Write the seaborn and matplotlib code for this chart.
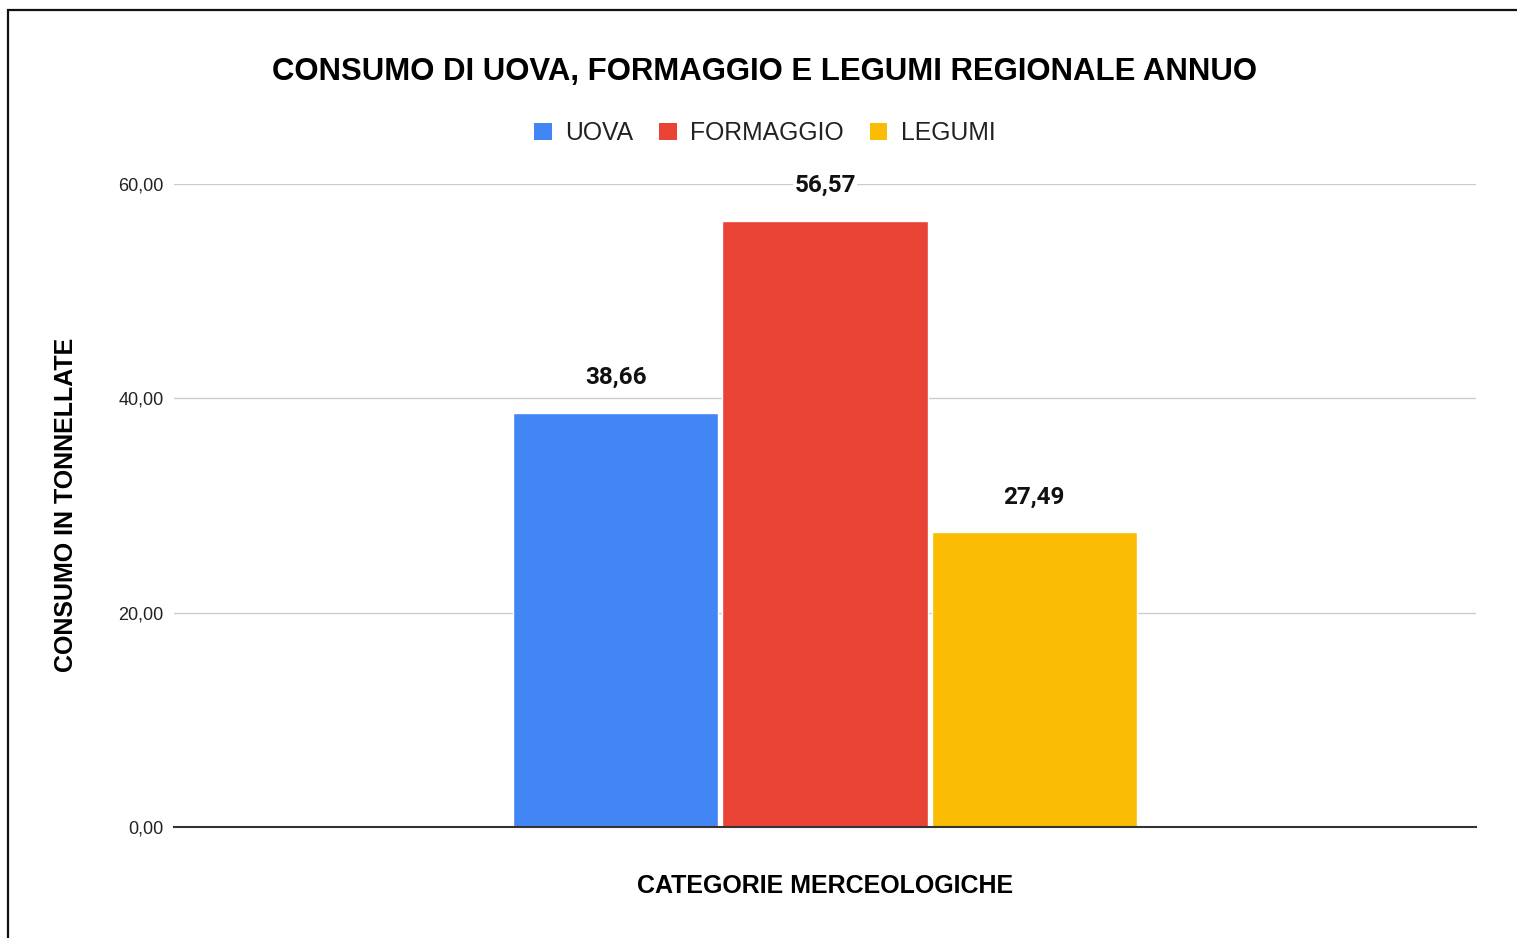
import matplotlib
matplotlib.use("Agg")
import matplotlib.pyplot as plt
from matplotlib.patches import Rectangle
import seaborn as sns
import pandas as pd

# data
series = ["UOVA", "FORMAGGIO", "LEGUMI"]
values = [38.66, 56.57, 27.49]
category = [""] * len(series)
colors = ["#4285F4", "#E94335", "#FBBC04"]
yticks = [0, 20, 40, 60]
ytick_labels = ["0,00", "20,00", "40,00", "60,00"]

df = pd.DataFrame({"cat": category, "serie": series, "valore": values})

sns.set_style("white")
plt.rcParams["font.family"] = ["Liberation Sans", "DejaVu Sans"]

fig = plt.figure(figsize=(15.17, 9.38), dpi=100)
ax = fig.add_axes([174 / 1517, 1 - 827 / 938, (1476 - 174) / 1517, (827 - 184) / 938])

sns.barplot(data=df, x="cat", y="valore", hue="serie", hue_order=series,
            palette=colors, width=0.482, gap=0.02, saturation=1,
            legend=False, ax=ax)

ax.set_ylim(0, 60)
ax.set_xlim(-0.5, 0.5)
ax.set_yticks(yticks)
ax.set_yticklabels(ytick_labels, fontsize=13, color="#222222")
ax.tick_params(axis="y", length=0, pad=7.5)
ax.set_xticks([])
ax.set_xlabel("")
ax.set_ylabel("")
ax.grid(axis="y", color="#cccccc", linewidth=1)
ax.set_axisbelow(True)
for side in ["left", "right", "top"]:
    ax.spines[side].set_visible(False)
ax.spines["bottom"].set_color("#333333")
ax.spines["bottom"].set_linewidth(1.5)
ax.spines["bottom"].set_zorder(5)

for cont, v in zip(ax.containers, values):
    lbls = ax.bar_label(cont, labels=[f"{v:.2f}".replace(".", ",")], padding=17,
                        fontsize=17.5, fontweight="bold", family="Roboto",
                        color="#111111")
    for t in lbls:
        t.set_bbox(dict(facecolor="white", edgecolor="none", pad=1))

# legend with square markers
handles = [Rectangle((0, 0), 1, 1, facecolor=c, edgecolor="none") for c in colors]
fig.legend(handles, series, loc="center", bbox_to_anchor=(765 / 1517, 1 - 133 / 938),
           ncol=3, frameon=False, fontsize=17.8, handlelength=0.7, handleheight=0.7,
           handletextpad=0.55, columnspacing=1.05, labelcolor="#222222")

fig.text(765 / 1517, 1 - 72 / 938, "CONSUMO DI UOVA, FORMAGGIO E LEGUMI REGIONALE ANNUO",
         ha="center", va="center", fontsize=22.4, fontweight="bold", color="black")
fig.text(66 / 1517, 1 - 505 / 938, "CONSUMO IN TONNELLATE", rotation=90,
         ha="center", va="center", fontsize=18, fontweight="bold", color="black")
fig.text(825 / 1517, 1 - 886 / 938, "CATEGORIE MERCEOLOGICHE",
         ha="center", va="center", fontsize=18, fontweight="bold", color="black")

# outer frame (right and bottom edges fall outside the image)
fig.patches.append(Rectangle((7.5 / 1517, -0.1), 1.2, 1.1 - 10.5 / 938,
                             transform=fig.transFigure, fill=False,
                             edgecolor="#111111", linewidth=1.6))

fig.savefig("out.png", dpi=100)
